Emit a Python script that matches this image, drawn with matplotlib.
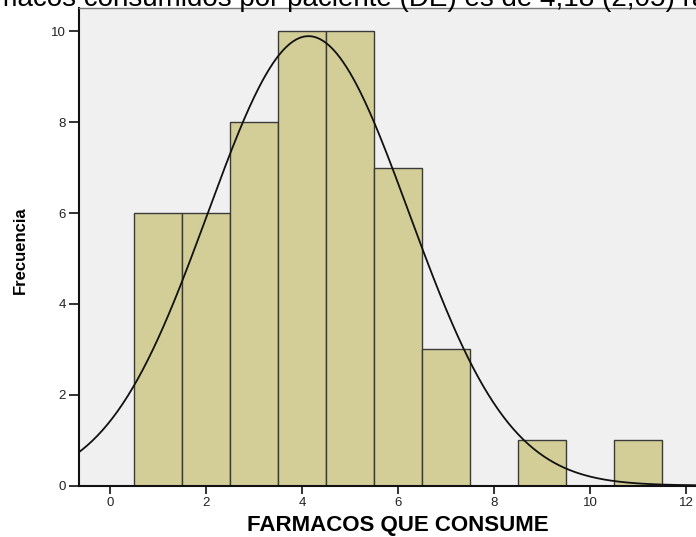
import numpy as np
import matplotlib
matplotlib.use("Agg")
import matplotlib.pyplot as plt

# Data
valores = [1, 2, 3, 4, 5, 6, 7, 9, 11]
frecuencias = [6, 6, 8, 10, 10, 7, 3, 1, 1]
xticks = [0, 2, 4, 6, 8, 10, 12]
yticks = [0, 2, 4, 6, 8, 10]
titulo_prefijo = "fármacos consumidos por paciente "
titulo_resto = "(DE) es de 4,18 (2,05) rango"
xlabel = "FARMACOS QUE CONSUME"
ylabel = "Frecuencia"

plt.rcParams['font.family'] = ['Liberation Sans', 'DejaVu Sans']

W, H = 696, 537
fig = plt.figure(figsize=(W / 100, H / 100), dpi=100)
fig.patch.set_facecolor('white')

left_px, right_px, top_px, bottom_px = 78.5, 696, 8.3, 485.5
ax = fig.add_axes([left_px / W, 1 - bottom_px / H, (right_px - left_px) / W, (bottom_px - top_px) / H])
ax.set_facecolor('#F0F0F0')

x0_px, px_per_x = 110, 48.0
y_px_per = 45.4
ax.set_xlim((left_px - x0_px) / px_per_x, (right_px - x0_px) / px_per_x)
ax.set_ylim(0, (bottom_px - top_px) / y_px_per)

ax.bar(valores, frecuencias, width=1.0, color='#D3CE97', edgecolor='#3A3A3A', linewidth=1.0, zorder=2)

# Normal curve from the data
vals = np.repeat(valores, frecuencias)
n = len(vals)
mu = vals.mean()
sd = vals.std(ddof=1)
xs = np.linspace(-1, 13, 400)
ys = n * 1.0 / (sd * np.sqrt(2 * np.pi)) * np.exp(-0.5 * ((xs - mu) / sd) ** 2)
ax.plot(xs, ys, color='#111111', linewidth=1.3, zorder=3)

ax.set_xticks(xticks)
ax.set_yticks(yticks)
ax.tick_params(axis='both', direction='out', width=1.3, color='#222222',
               labelsize=9.5, labelcolor='#222222')
ax.tick_params(axis='x', length=6, pad=2.5)
ax.tick_params(axis='y', length=7.2, pad=2)

for s in ['left', 'bottom']:
    ax.spines[s].set_color('#111111')
    ax.spines[s].set_linewidth(1.5)
ax.spines['top'].set_color('#777777')
ax.spines['top'].set_linewidth(1.0)
ax.spines['right'].set_visible(False)

fig.text(398 / W, 1 - 525 / H, xlabel, ha='center', va='center', fontsize=16, fontweight='bold')
fig.text(20 / W, 1 - 250 / H, ylabel, ha='center', va='center', rotation=90, fontsize=12, fontweight='bold')

# Title line (cut off at the top edge, as in the reference)
renderer = fig.canvas.get_renderer()
probe = fig.text(0, 0, titulo_prefijo, fontsize=20)
pref_w = probe.get_window_extent(renderer).width
probe.remove()
fig.text((400 - pref_w) / W, 1 - 5.5 / H, titulo_prefijo + titulo_resto,
         ha='left', va='baseline', fontsize=20)

fig.savefig('out.png', dpi=100, facecolor='white')
